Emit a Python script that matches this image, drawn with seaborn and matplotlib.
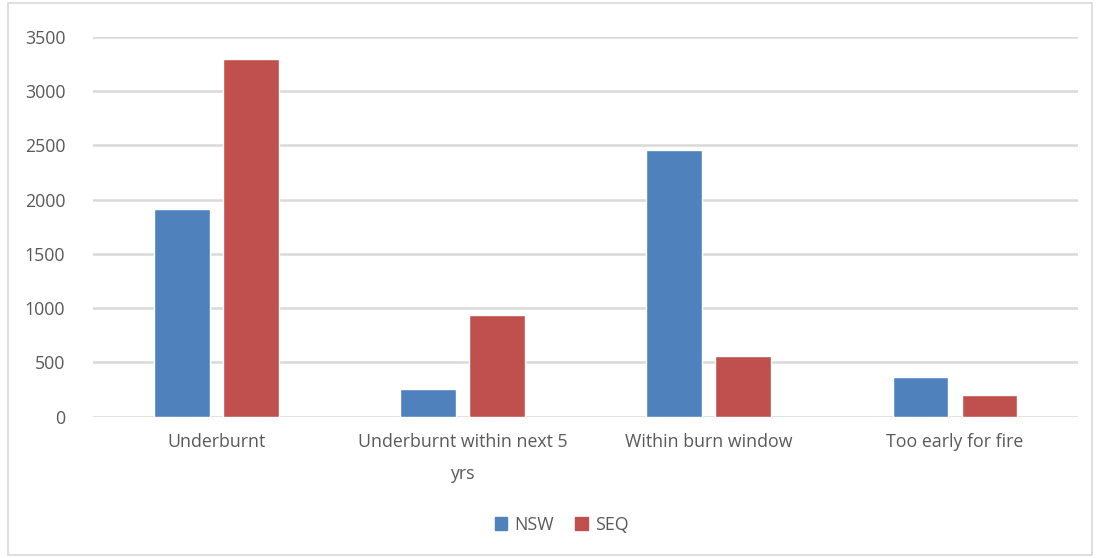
import pandas as pd
import seaborn as sns
import matplotlib.pyplot as plt
from matplotlib.patches import Rectangle

categories = ["Underburnt", "Underburnt within next 5\nyrs", "Within burn window", "Too early for fire"]
nsw = [1910, 255, 2455, 365]
seq = [3300, 935, 560, 197]

df = pd.DataFrame({
    "category": categories * 2,
    "region": ["NSW"] * 4 + ["SEQ"] * 4,
    "value": nsw + seq,
})

sns.set_theme(style="white")
plt.rcParams['font.family'] = ['Open Sans', 'DejaVu Sans']

fig = plt.figure(figsize=(10.97, 5.58), dpi=100)
ax = fig.add_axes([0.0848, 0.2532, 0.898, 0.6805])

sns.barplot(data=df, x="category", y="value", hue="region",
            palette={"NSW": "#4F81BD", "SEQ": "#C0504D"}, saturation=1,
            width=0.56, gap=0.19, ax=ax, legend=False)

ax.set_ylim(0, 3500)
ax.set_yticks(range(0, 3501, 500))
ax.set_xlim(-0.5, 3.5)
ax.yaxis.grid(True, color="#D9D9D9", linewidth=1.8)
ax.set_axisbelow(True)
for s in ax.spines.values():
    s.set_visible(False)
ax.set_xlabel("")
ax.set_ylabel("")
ax.tick_params(axis="y", length=0, pad=20, labelsize=12.8, labelcolor="#595959")
ax.tick_params(axis="x", length=0, pad=12, labelsize=12.8, labelcolor="#595959")
for t in ax.get_xticklabels():
    t.set_linespacing(2.0)

# legend
handles = [plt.Rectangle((0, 0), 1, 1, color="#4F81BD"), plt.Rectangle((0, 0), 1, 1, color="#C0504D")]
fig.legend(handles, ["NSW", "SEQ"], loc="center", bbox_to_anchor=(0.512, 0.06), ncol=2,
           frameon=False, fontsize=12.8, handlelength=0.7, handleheight=0.7,
           handletextpad=0.4, columnspacing=1.2, labelcolor="#595959")

# chart border
fig.patches.append(Rectangle((0.007, 0.005), 0.988, 0.99, transform=fig.transFigure,
                             fill=False, edgecolor="#D9D9D9", linewidth=1.2))

fig.savefig("out.png", dpi=100)
